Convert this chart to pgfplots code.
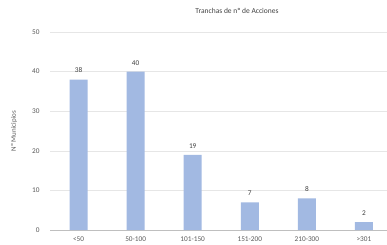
\documentclass[border=0pt]{standalone}
\usepackage{pgfplots}
\pgfplotsset{compat=1.18}
\usepackage{fontspec}
\setmainfont{Carlito}
\definecolor{barblue}{HTML}{A2B9E2}
\definecolor{gridgray}{HTML}{E6E6E6}
\definecolor{txtgray}{HTML}{595959}
\definecolor{lblgray}{HTML}{404040}
\begin{document}
\begin{tikzpicture}
\useasboundingbox (0,0) rectangle (387pt,244pt);
\begin{axis}[
  at={(50pt,14pt)}, anchor=south west,
  scale only axis, width=342.5pt, height=198pt,
  xmin=-0.5, xmax=5.5, ymin=0, ymax=50,
  ytick={0,10,20,30,40,50},
  xtick={0,1,2,3,4,5},
  xticklabels={<50,50-100,101-150,151-200,210-300,>301},
  ymajorgrids, grid style={gridgray, line width=0.6pt},
  axis line style={draw=none},
  major tick length=0pt,
  /pgf/number format/assume math mode=true,
  tick label style={font=\fontsize{7.3}{8}\selectfont, text=txtgray},
  yticklabel style={xshift=-7pt},
  xticklabel style={yshift=-3.5pt},
  ylabel={Nº Municipios},
  ylabel style={font=\fontsize{7}{8}\selectfont, text=txtgray, at={(axis description cs:-0.105,0.5)}, anchor=center, rotate=0},
  title={Tranchas de nº de Acciones},
  title style={font=\fontsize{7.5}{9}\selectfont, text=lblgray, at={(axis description cs:0.546,1.076)}, anchor=center},
  ybar, bar width=18pt,
  nodes near coords,
  every node near coord/.append style={font=\fontsize{7.3}{8}\selectfont, text=lblgray, yshift=3pt},
  clip=false,
]
\draw[color=gray!50, line width=0.6pt] (axis cs:-0.5,0) -- (axis cs:5.5,0);
\addplot[fill=barblue, draw=none] coordinates {(0,38) (1,40) (2,19) (3,7) (4,8) (5,2)};
\end{axis}
\end{tikzpicture}
\end{document}
